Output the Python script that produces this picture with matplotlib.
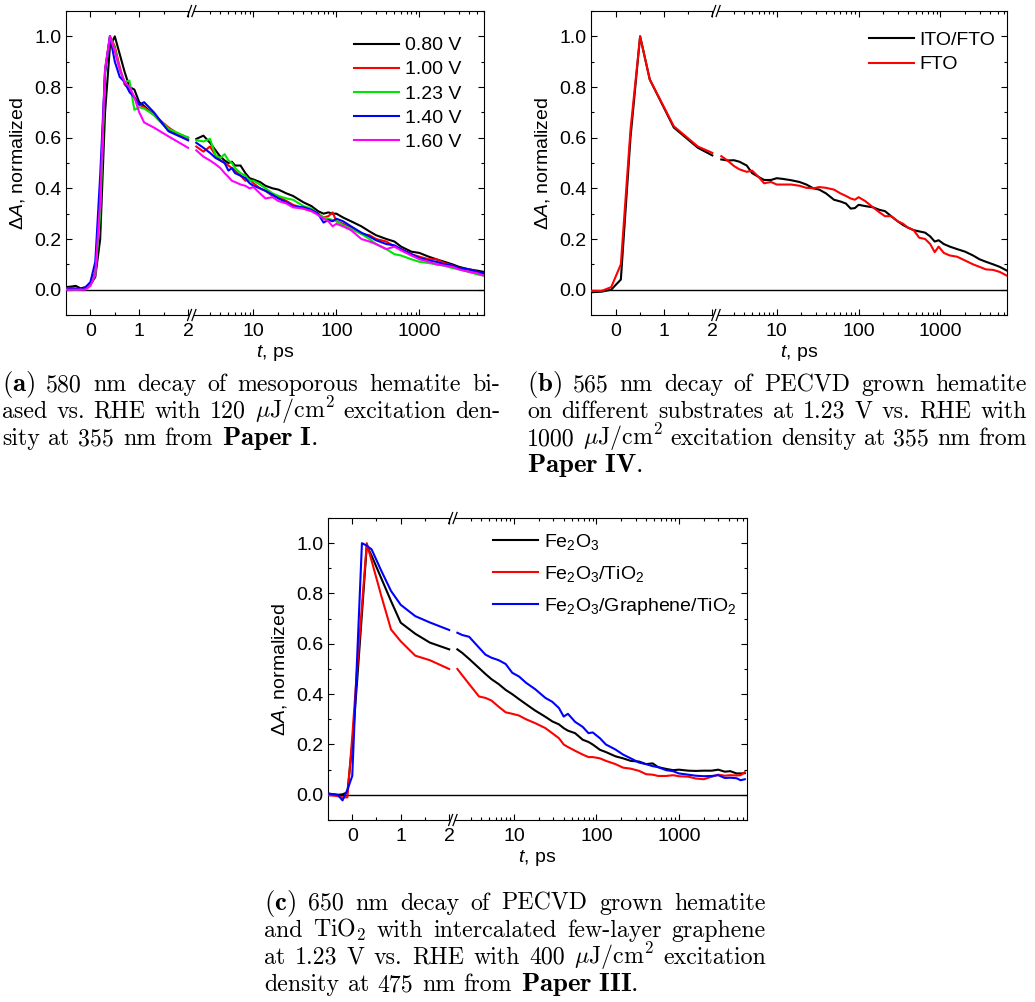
import re
import numpy as np
import matplotlib
matplotlib.use("Agg")
import matplotlib.pyplot as plt
import matplotlib.ticker as mticker

# transient absorption decays, three panels with a linear | log broken time axis

plt.rcParams['font.family'] = 'Liberation Sans'
plt.rcParams['mathtext.fontset'] = 'custom'
plt.rcParams['mathtext.rm'] = 'Liberation Sans'
plt.rcParams['mathtext.it'] = 'Liberation Sans:italic'
plt.rcParams['mathtext.bf'] = 'Liberation Sans:bold'

#---------------------------- data ----------------------------#
# (a) mesoporous hematite, different bias
t_a = [-0.5, -0.4, -0.3, -0.2, -0.1, 0.0, 0.1, 0.2, 0.3, 0.4, 0.5, 0.6, 0.7, 0.8, 0.9, 1.0, 1.1, 1.3, 1.6, 2.0,
       2.05, 2.5, 3.0, 3.5, 4.0, 4.5, 5.0, 5.5, 6.0, 7.0, 8.0, 9.0,
       10, 12, 14, 17, 20, 25, 30, 40, 50, 60, 70, 80, 90,
       100, 120, 150, 200, 250, 300, 400, 500, 600, 800,
       1000, 1300, 1600, 2000, 2500, 3000, 4000, 5000, 6000]
a_080 = [0.01, 0.012, 0.015, 0.005, 0.01, 0.02, 0.05, 0.2, 0.7, 0.96, 1.0, 0.93, 0.86, 0.80, 0.79, 0.74, 0.725, 0.69, 0.63, 0.60,
         0.595, 0.608, 0.58, 0.55, 0.525, 0.51, 0.5, 0.505, 0.49, 0.49, 0.46, 0.44,
         0.435, 0.425, 0.41, 0.40, 0.395, 0.38, 0.37, 0.345, 0.33, 0.31, 0.30, 0.305, 0.30,
         0.30, 0.285, 0.27, 0.25, 0.23, 0.215, 0.2, 0.19, 0.17, 0.15,
         0.145, 0.13, 0.12, 0.11, 0.1, 0.09, 0.08, 0.075, 0.07]
a_100 = [0.005, 0.005, 0.0, 0.0, 0.005, 0.02, 0.07, 0.35, 0.87, 1.0, 0.96, 0.88, 0.81, 0.79, 0.76, 0.73, 0.72, 0.69, 0.64, 0.59,
         0.565, 0.545, 0.565, 0.53, 0.51, 0.5, 0.49, 0.48, 0.47, 0.45, 0.43, 0.435,
         0.42, 0.40, 0.39, 0.37, 0.365, 0.35, 0.335, 0.32, 0.31, 0.30, 0.285, 0.29, 0.305,
         0.27, 0.26, 0.245, 0.22, 0.215, 0.2, 0.19, 0.17, 0.16, 0.14,
         0.13, 0.12, 0.12, 0.105, 0.095, 0.085, 0.08, 0.07, 0.06]
a_123 = [0.0, 0.0, 0.0, 0.0, 0.005, 0.02, 0.06, 0.3, 0.85, 1.0, 0.95, 0.87, 0.82, 0.825, 0.71, 0.72, 0.715, 0.69, 0.635, 0.60,
         0.59, 0.585, 0.595, 0.53, 0.52, 0.535, 0.51, 0.5, 0.48, 0.46, 0.45, 0.43,
         0.43, 0.415, 0.40, 0.38, 0.37, 0.36, 0.355, 0.33, 0.32, 0.30, 0.285, 0.28, 0.275,
         0.27, 0.255, 0.24, 0.22, 0.2, 0.18, 0.16, 0.14, 0.135, 0.12,
         0.11, 0.105, 0.1, 0.095, 0.085, 0.08, 0.07, 0.06, 0.055]
a_140 = [0.0, 0.005, 0.005, 0.0, 0.01, 0.03, 0.11, 0.45, 0.86, 1.0, 0.9, 0.84, 0.82, 0.78, 0.76, 0.73, 0.74, 0.7, 0.625, 0.59,
         0.58, 0.56, 0.54, 0.52, 0.51, 0.5, 0.47, 0.48, 0.46, 0.45, 0.44, 0.42,
         0.41, 0.4, 0.39, 0.375, 0.36, 0.345, 0.33, 0.325, 0.315, 0.3, 0.265, 0.275, 0.27,
         0.28, 0.27, 0.25, 0.225, 0.21, 0.195, 0.18, 0.175, 0.16, 0.14,
         0.125, 0.115, 0.11, 0.1, 0.095, 0.085, 0.08, 0.07, 0.065]
a_160 = [0.0, 0.0, 0.0, 0.0, 0.0, 0.015, 0.06, 0.35, 0.87, 1.0, 0.94, 0.87, 0.82, 0.8, 0.76, 0.7, 0.66, 0.64, 0.605, 0.56,
         0.55, 0.525, 0.51, 0.495, 0.48, 0.46, 0.445, 0.43, 0.425, 0.415, 0.41, 0.40,
         0.405, 0.38, 0.36, 0.365, 0.35, 0.34, 0.325, 0.32, 0.31, 0.295, 0.28, 0.27, 0.25,
         0.26, 0.25, 0.235, 0.2, 0.19, 0.18, 0.16, 0.17, 0.155, 0.135,
         0.12, 0.11, 0.1, 0.095, 0.09, 0.08, 0.07, 0.065, 0.055]
a_labels = ["0.80 V", "1.00 V", "1.23 V", "1.40 V", "1.60 V"]

# (b) PECVD hematite on different substrates
t_b = [-0.5, -0.3, -0.1, 0.1, 0.3, 0.5, 0.7, 1.2, 1.7, 2.0,
       2.1, 2.5, 3.0, 3.5, 4.3, 5.0, 6.0, 7.0, 8.5,
       10, 12, 15, 19, 23, 28, 33, 40, 50, 60, 70, 80, 90,
       100, 120, 150, 180, 210, 250, 300, 350, 400, 470, 550, 650, 750, 850, 950,
       1100, 1300, 1600, 2000, 2500, 3000, 3600, 4400, 5300, 6500]
b_itofto = [-0.01, -0.008, 0.0, 0.04, 0.6, 1.0, 0.83, 0.64, 0.56, 0.53,
            0.514, 0.51, 0.511, 0.505, 0.49, 0.46, 0.445, 0.433, 0.433,
            0.44, 0.437, 0.432, 0.425, 0.415, 0.40, 0.395, 0.38, 0.355, 0.348, 0.34, 0.32, 0.322,
            0.335, 0.33, 0.325, 0.315, 0.31, 0.29, 0.27, 0.255, 0.245, 0.235, 0.23, 0.225, 0.21, 0.19, 0.195,
            0.18, 0.17, 0.16, 0.15, 0.135, 0.12, 0.11, 0.1, 0.09, 0.075]
b_fto = [-0.005, -0.005, 0.01, 0.1, 0.63, 1.0, 0.83, 0.645, 0.565, 0.54,
         0.527, 0.51, 0.488, 0.475, 0.465, 0.47, 0.445, 0.42, 0.425,
         0.415, 0.415, 0.415, 0.41, 0.402, 0.40, 0.405, 0.402, 0.395, 0.38, 0.37, 0.36, 0.355,
         0.365, 0.35, 0.325, 0.305, 0.29, 0.29, 0.27, 0.26, 0.245, 0.235, 0.205, 0.2, 0.18, 0.148, 0.17,
         0.145, 0.135, 0.13, 0.115, 0.1, 0.09, 0.08, 0.078, 0.07, 0.055]
b_labels = ["ITO/FTO", "FTO"]

# (c) hematite / TiO2 / graphene
t_c = [-0.5, -0.3, -0.2, -0.1, 0.0, 0.1, 0.2, 0.3, 0.4, 0.6, 0.8, 1.0, 1.3, 1.6, 2.0,
       2.05, 2.35, 2.85, 3.75, 4.5, 5.3, 6.5, 7.9, 9.5,
       11.5, 14, 18, 24, 29, 35, 40, 45, 55, 68, 80, 90,
       110, 130, 170, 210, 260, 330, 400, 480, 560, 700, 850,
       1000, 1300, 1600, 2000, 2500, 3000, 3600, 4200, 5000, 5600, 6300]
c_fe = [0.005, 0.0, 0.002, 0.01, 0.2, 0.45, 0.72, 0.99, 0.95, 0.86, 0.77, 0.684, 0.64, 0.605, 0.578,
        0.578, 0.564, 0.54, 0.504, 0.48, 0.46, 0.44, 0.417, 0.4,
        0.38, 0.36, 0.335, 0.31, 0.292, 0.28, 0.265, 0.255, 0.245, 0.219, 0.21, 0.2,
        0.179, 0.17, 0.153, 0.145, 0.135, 0.132, 0.122, 0.125, 0.11, 0.103, 0.098,
        0.1, 0.096, 0.095, 0.096, 0.096, 0.1, 0.092, 0.094, 0.085, 0.085, 0.086]
c_feti = [0.0, -0.005, -0.01, -0.01, 0.23, 0.5, 0.75, 1.0, 0.93, 0.79, 0.657, 0.61, 0.553, 0.535, 0.5,
          0.5, 0.475, 0.44, 0.391, 0.385, 0.375, 0.35, 0.328, 0.322,
          0.315, 0.3, 0.285, 0.265, 0.245, 0.225, 0.2, 0.19, 0.175, 0.16, 0.15, 0.15,
          0.145, 0.135, 0.122, 0.108, 0.104, 0.095, 0.082, 0.08, 0.075, 0.075, 0.078,
          0.074, 0.072, 0.065, 0.062, 0.072, 0.08, 0.076, 0.078, 0.077, 0.078, 0.09]
c_fegrti = [0.005, 0.0, -0.022, 0.02, 0.075, 0.54, 1.0, 0.99, 0.975, 0.89, 0.81, 0.755, 0.71, 0.685, 0.655,
            0.644, 0.635, 0.628, 0.585, 0.557, 0.545, 0.535, 0.52, 0.485,
            0.47, 0.445, 0.42, 0.385, 0.37, 0.345, 0.311, 0.322, 0.29, 0.27, 0.245, 0.248,
            0.225, 0.2, 0.18, 0.16, 0.145, 0.128, 0.122, 0.114, 0.11, 0.098, 0.094,
            0.085, 0.08, 0.076, 0.074, 0.075, 0.078, 0.067, 0.068, 0.066, 0.058, 0.062]
c_labels = ["Fe$_2$O$_3$", "Fe$_2$O$_3$/TiO$_2$", "Fe$_2$O$_3$/Graphene/TiO$_2$"]

x_major = [0, 1, 2, 10, 100, 1000]
x_minor = [0.5, 1.5, 3, 4, 5, 6, 7, 8, 9, 20, 30, 40, 50, 60, 70, 80, 90,
           200, 300, 400, 500, 600, 700, 800, 900, 2000, 3000, 4000, 5000, 6000]

#---------------------------- axis scale ----------------------------#
W, H = 1035, 1002
GAP = 0.15   # blank between linear 2 and log 2
K = 1.70     # width of one decade in linear units


def fwd(x):
    x = np.asarray(x, dtype=float)
    lg = 2 + GAP + K*np.log10(np.where(x > 2, x, 2.0)/2.0)
    return np.where(x <= 2, x, lg)


def inv(y):
    y = np.asarray(y, dtype=float)
    yy = np.clip(np.where(y > 2 + GAP, y, 2 + GAP), None, 60)
    ex = 2.0*10**((yy - 2 - GAP)/K)
    return np.where(y <= 2, y, ex)


def setup(ax, xmin, xmax):
    ax.set_xscale('function', functions=(fwd, inv))
    ax.set_xlim(xmin, xmax)
    ax.set_ylim(-0.1, 1.1)
    ax.xaxis.set_major_locator(mticker.FixedLocator(x_major))
    ax.xaxis.set_minor_locator(mticker.FixedLocator(x_minor))
    ax.xaxis.set_major_formatter(mticker.FuncFormatter(lambda v, p: '%g' % v))
    ax.yaxis.set_major_locator(mticker.MultipleLocator(0.2))
    ax.yaxis.set_minor_locator(mticker.MultipleLocator(0.1))
    ax.yaxis.set_major_formatter(mticker.FormatStrFormatter('%.1f'))
    ax.tick_params(which='both', direction='in', top=True, right=True, width=0.8, labelsize=14)
    ax.tick_params(which='major', length=4.5)
    ax.tick_params(which='minor', length=2.5)
    ax.tick_params(axis='x', pad=6)
    for s in ax.spines.values():
        s.set_linewidth(0.8)
    ax.axhline(0, color='k', lw=1.0, zorder=1)
    ax.set_xlabel('$t$, ps', fontsize=14, labelpad=2)
    ax.set_ylabel('\u0394$A$, normalized', fontsize=14, labelpad=5)

    # break marks "//" on top and bottom spine
    s0 = fwd(xmin)
    s1 = fwd(xmax)
    cx = (2 + GAP/2 - s0)/(s1 - s0)
    pos = ax.get_position()
    wpx = pos.width*W
    hpx = pos.height*H
    dx = 2.2/wpx
    hx = 2.0/wpx
    hy = 5.5/hpx
    for yy in (0.0, 1.0):
        ax.plot([cx - dx, cx + dx], [yy, yy], color='white', lw=3, transform=ax.transAxes,
                clip_on=False, zorder=5, solid_capstyle='butt')
        for c in (cx - dx, cx + dx):
            ax.plot([c - hx, c + hx], [yy - hy, yy + hy], color='k', lw=0.9,
                    transform=ax.transAxes, clip_on=False, zorder=6)


def plot_split(ax, t, v, color, label):
    t = np.asarray(t)
    v = np.asarray(v)
    m = t <= 2
    ax.plot(t[m], v[m], color=color, lw=1.5, label=label, zorder=3)
    ax.plot(t[~m], v[~m], color=color, lw=1.5, zorder=3)


def leg(ax, x, y, spacing):
    ax.legend(loc='upper left', bbox_to_anchor=(x, y), frameon=False, fontsize=14,
              borderpad=0, borderaxespad=0, handlelength=2.3, handletextpad=0.3,
              labelspacing=spacing)


#---------------------------- figure ----------------------------#
fig = plt.figure(figsize=(W/100, H/100), dpi=100)

ax1 = fig.add_axes([66/W, 1 - 315/H, 418/W, 304/H])
ax2 = fig.add_axes([591/W, 1 - 315/H, 416/W, 304/H])
ax3 = fig.add_axes([328/W, 1 - 820/H, 419/W, 302/H])

setup(ax1, -0.5, 6000)
for v, col, lab in zip([a_080, a_100, a_123, a_140, a_160],
                       ['#000000', '#ff0000', '#00e600', '#0000ff', '#ff00ff'], a_labels):
    plot_split(ax1, t_a, v, col, lab)
leg(ax1, 0.69, 0.915, 0.33)

setup(ax2, -0.52, 6500)
for v, col, lab in zip([b_itofto, b_fto], ['#000000', '#ff0000'], b_labels):
    plot_split(ax2, t_b, v, col, lab)
leg(ax2, 0.668, 0.932, 0.33)

setup(ax3, -0.5, 6700)
for v, col, lab in zip([c_fe, c_feti, c_fegrti], ['#000000', '#ff0000', '#0000ff'], c_labels):
    plot_split(ax3, t_c, v, col, lab)
leg(ax3, 0.394, 0.955, 0.62)

#---------------------------- captions ----------------------------#
cap_a = [r"$\mathbf{(a)}$ 580 nm decay of mesoporous hematite bi-",
         r"ased vs. RHE with 120 $\mu$J/cm$^2$ excitation den-",
         r"sity at 355 nm from $\mathbf{Paper\ I}$."]
cap_b = [r"$\mathbf{(b)}$ 565 nm decay of PECVD grown hematite",
         r"on different substrates at 1.23 V vs. RHE with",
         r"1000 $\mu$J/cm$^2$ excitation density at 355 nm from",
         r"$\mathbf{Paper\ IV}$."]
cap_c = [r"$\mathbf{(c)}$ 650 nm decay of PECVD grown hematite",
         r"and TiO$_2$ with intercalated few-layer graphene",
         r"at 1.23 V vs. RHE with 400 $\mu$J/cm$^2$ excitation",
         r"density at 475 nm from $\mathbf{Paper\ III}$."]

renderer = fig.canvas.get_renderer()
CAP_FS = 17.2


def caption(x0, x1, y0, lines, dy=27):
    for i, line in enumerate(lines):
        words = re.split(r'(?<!\\) ', line)
        # bold words a bit larger: latex uses the wider bold extended face
        txts = [fig.text(0, 0, w, fontsize=CAP_FS*(1.12 if 'mathbf' in w else 1.0),
                         family='cmr10', math_fontfamily='cm',
                         va='baseline', ha='left') for w in words]
        widths = [t.get_window_extent(renderer=renderer).width for t in txts]
        if i == len(lines) - 1 or len(words) == 1:
            gap = 0.36*CAP_FS*100/72
        else:
            gap = (x1 - x0 - sum(widths))/(len(words) - 1)
        x = x0
        for t, w in zip(txts, widths):
            t.set_position((x/W, 1 - (y0 + i*dy)/H))
            x += w + gap


caption(2, 500, 391, cap_a)
caption(527, 1027, 391, cap_b)
caption(264, 766, 910, cap_c)

fig.savefig("out.png", dpi=100)
